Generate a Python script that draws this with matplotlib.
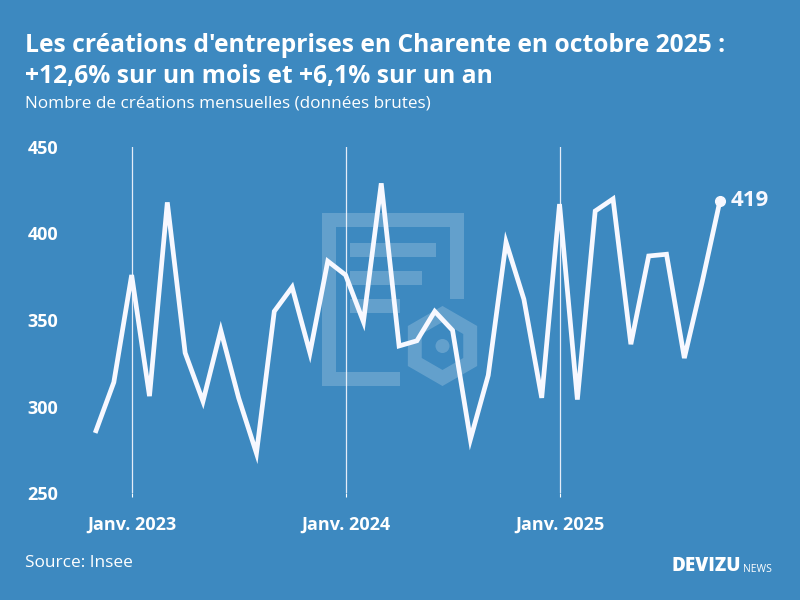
import matplotlib.pyplot as plt
from matplotlib.patches import Rectangle, RegularPolygon, Circle
import numpy as np

# Données : créations mensuelles en Charente, nov. 2022 -> oct. 2025
valeurs = [286, 314,
           376, 306, 418, 331, 303, 344, 305, 273, 355, 369, 331, 384,
           376, 349, 429, 335, 338, 355, 344, 281, 318, 395, 362, 305,
           417, 304, 413, 420, 336, 387, 388, 328, 372, 419]
ticks_pos = [2, 14, 26]
ticks_lab = ["Janv. 2023", "Janv. 2024", "Janv. 2025"]
y_ticks = [250, 300, 350, 400, 450]

bleu = "#3d89c0"
blanc = "#f7f8ff"
plt.rcParams['font.family'] = ['Open Sans', 'DejaVu Sans']

fig = plt.figure(figsize=(8, 6), dpi=100, facecolor=bleu)

# Filigrane (logo) en arrière-plan
bg = fig.add_axes([0, 0, 1, 1], zorder=0)
bg.set_xlim(0, 800)
bg.set_ylim(600, 0)
bg.axis('off')
wm = dict(color="white", alpha=0.2, lw=0)
bg.add_patch(Rectangle((322, 213), 14, 173, **wm))
bg.add_patch(Rectangle((336, 213), 128, 14, **wm))
bg.add_patch(Rectangle((450, 227), 14, 72, **wm))
bg.add_patch(Rectangle((336, 372), 64, 14, **wm))
bg.add_patch(Rectangle((350, 243), 86, 14, **wm))
bg.add_patch(Rectangle((350, 271), 72, 14, **wm))
bg.add_patch(Rectangle((350, 299), 50, 14, **wm))
bg.add_patch(RegularPolygon((442.5, 346), 6, radius=32, fill=False,
                            edgecolor="white", alpha=0.2, lw=10))
bg.add_patch(Circle((442.5, 346), 7, **wm))

# Graphique principal
ax = fig.add_axes([96 / 800, 107 / 600, 624 / 800, 346 / 600], zorder=1)
ax.patch.set_alpha(0)
x = np.arange(len(valeurs))
ax.plot(x, valeurs, color=blanc, lw=3.4, solid_joinstyle='miter', clip_on=False)
ax.plot(x[-1], valeurs[-1], 'o', color=blanc, ms=7, clip_on=False)
ax.annotate(str(valeurs[-1]), (x[-1], valeurs[-1]), xytext=(8, 0),
            textcoords='offset points', va='center', ha='left',
            color=blanc, fontsize=16, fontweight='bold')

for p in ticks_pos:
    ax.axvline(p, color=blanc, lw=0.9, alpha=0.9)

ax.set_xlim(0, len(valeurs) - 1)
ax.set_ylim(250, 450)
ax.set_yticks(y_ticks)
ax.set_xticks(ticks_pos)
ax.set_xticklabels(ticks_lab)
ax.tick_params(axis='y', length=0, pad=27, labelcolor="white", labelsize=13)
ax.tick_params(axis='x', length=3, color="white", pad=13, labelcolor="white",
               labelsize=13)
for lab in ax.get_xticklabels() + ax.get_yticklabels():
    lab.set_fontweight('bold')
for s in ax.spines.values():
    s.set_visible(False)

# Textes
fig.text(25 / 800, 1 - 45 / 600, "Les créations d'entreprises en Charente en octobre 2025 :",
         color="white", fontsize=17.7, fontweight='bold', va='center', ha='left')
fig.text(25 / 800, 1 - 76 / 600, "+12,6% sur un mois et +6,1% sur un an",
         color="white", fontsize=17.7, fontweight='bold', va='center', ha='left')
fig.text(25 / 800, 1 - 104 / 600, "Nombre de créations mensuelles (données brutes)",
         color="white", fontsize=12.3, va='center', ha='left')
fig.text(25 / 800, 1 - 563 / 600, "Source: Insee", color="white", fontsize=12.4,
         va='center', ha='left')
fig.text(741 / 800, 1 - 566 / 600, "DEVIZU", color="white", fontsize=13.5,
         fontweight='heavy', va='center', ha='right')
fig.text(743 / 800, 1 - 569 / 600, "NEWS", color="white", fontsize=7.5,
         va='center', ha='left')

fig.savefig("out.png", dpi=100, facecolor=bleu)
